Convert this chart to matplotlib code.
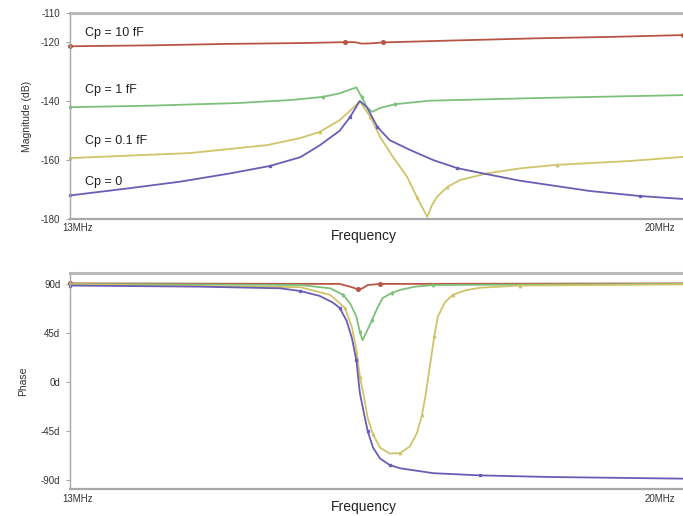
import matplotlib
matplotlib.use("Agg")
import matplotlib.pyplot as plt

plt.rcParams['font.family'] = ['Liberation Sans', 'DejaVu Sans']

# ---------------- Data (frequency in MHz) ----------------
# Magnitude (dB)
f_mag_10f = [13.00, 13.91, 14.80, 15.68, 16.14, 16.25, 16.33, 16.45, 16.57, 17.43, 18.33, 19.20, 20.00]
mag_10f = [-121.3, -121.0, -120.5, -120.2, -119.9, -119.9, -120.4, -120.3, -120.0, -119.3, -118.6, -118.1, -117.5]

f_mag_1f = [13.00, 13.91, 14.91, 15.51, 15.89, 16.08, 16.20, 16.27, 16.33, 16.39, 16.45, 16.54, 16.71, 17.11, 18.33, 20.00]
mag_1f = [-142.0, -141.5, -140.6, -139.6, -138.5, -137.3, -136.0, -135.3, -138.5, -142.0, -143.6, -142.3, -141.0, -139.8, -138.9, -137.9]

f_mag_01f = [13.00, 14.37, 15.25, 15.63, 15.85, 16.08, 16.23, 16.31, 16.43, 16.54, 16.69, 16.85, 16.96, 17.08,
             17.13, 17.19, 17.31, 17.45, 17.76, 18.14, 18.56, 19.39, 20.00]
mag_01f = [-159.3, -157.6, -154.9, -152.5, -150.4, -146.4, -142.3, -140.0, -145.3, -152.1, -159.0, -165.7, -172.5, -179.3,
           -175.5, -172.5, -169.1, -166.8, -164.5, -162.8, -161.6, -160.3, -158.9]

f_mag_0 = [13.00, 13.69, 14.26, 14.83, 15.28, 15.63, 15.85, 16.08, 16.20, 16.28, 16.31, 16.39, 16.51, 16.65, 16.88,
           17.15, 17.42, 17.68, 18.14, 18.94, 19.51, 20.00]
mag_0 = [-172.0, -169.5, -167.3, -164.5, -162.0, -159.0, -155.0, -150.0, -145.3, -141.3, -139.9, -142.0, -148.7, -153.2, -156.5,
         -160.0, -162.7, -164.3, -167.0, -170.5, -172.2, -173.2]

# Phase (degrees)
f_ph_10f = [13.00, 16.08, 16.22, 16.29, 16.34, 16.40, 16.54, 20.00]
ph_10f = [90.5, 90.0, 87.0, 85.0, 86.0, 89.0, 90.0, 90.5]

f_ph_1f = [13.00, 15.63, 15.97, 16.12, 16.20, 16.27, 16.31, 16.34, 16.38, 16.45, 16.51, 16.57, 16.68, 16.77, 16.94, 17.15, 20.00]
ph_1f = [90.0, 89.0, 86.0, 80.0, 72.0, 60.0, 46.0, 38.5, 45.0, 57.0, 68.0, 77.0, 82.0, 84.5, 87.5, 89.0, 90.0]

f_ph_01f = [13.00, 15.63, 15.97, 16.14, 16.22, 16.27, 16.31, 16.36, 16.40, 16.46, 16.54, 16.65, 16.77, 16.88, 16.96,
            17.02, 17.06, 17.11, 17.16, 17.20, 17.28, 17.37, 17.51, 17.68, 18.14, 20.00]
ph_01f = [89.5, 87.0, 80.0, 68.0, 50.0, 30.0, 5.0, -15.0, -33.0, -48.0, -60.0, -65.5, -65.0, -59.0, -47.0,
          -30.0, -12.0, 15.0, 42.0, 60.0, 73.0, 80.0, 84.0, 86.5, 88.5, 89.5]

f_ph_0 = [13.00, 14.48, 15.40, 15.63, 15.85, 16.00, 16.08, 16.16, 16.22, 16.27, 16.31, 16.36, 16.40, 16.46, 16.54,
          16.65, 16.77, 17.15, 17.68, 18.48, 20.00]
ph_0 = [88.5, 87.5, 86.0, 83.5, 79.0, 73.0, 68.0, 56.0, 40.0, 20.0, -10.0, -30.0, -45.0, -60.0, -70.0,
        -76.0, -79.0, -83.5, -85.5, -87.0, -88.5]

labels = ["Cp = 10 fF", "Cp = 1 fF", "Cp = 0.1 fF", "Cp = 0"]
mag_ticks = [-110, -120, -140, -160, -180]
phase_ticks = [90, 45, 0, -45, -90]
phase_tick_labels = ["90d", "45d", "0d", "-45d", "-90d"]
x_tick_labels = ["13MHz", "20MHz"]

colors = ["#b85545", "#7dc07a", "#cfc46a", "#6a5db5"]
markers = ["o", "d", "^", "s"]
marker_sizes = [2.6, 1.8, 1.8, 1.8]

# ---------------- Figure ----------------
fig = plt.figure(figsize=(6.83, 5.16), dpi=100)
ax1 = fig.add_axes([0.1025, 0.5756, 0.8975, 0.3992])
ax2 = fig.add_axes([0.1025, 0.0523, 0.8975, 0.4186])

mag_series = [(f_mag_10f, mag_10f), (f_mag_1f, mag_1f), (f_mag_01f, mag_01f), (f_mag_0, mag_0)]
ph_series = [(f_ph_10f, ph_10f), (f_ph_1f, ph_1f), (f_ph_01f, ph_01f), (f_ph_0, ph_0)]

for (fx, fy), c, m, ms in zip(mag_series, colors, markers, marker_sizes):
    ax1.plot(fx, fy, color=c, lw=1.3, marker=m, ms=ms, markevery=4,
             mfc=c, mec=c, solid_joinstyle='round', clip_on=False)
for (fx, fy), c, m, ms in zip(ph_series, colors, markers, marker_sizes):
    ax2.plot(fx, fy, color=c, lw=1.3, marker=m, ms=ms, markevery=3,
             mfc=c, mec=c, solid_joinstyle='round', clip_on=False)

frame = "#a8a8a8"
for ax in (ax1, ax2):
    ax.set_xlim(13, 20)
    ax.set_xticks([])
    ax.spines['right'].set_visible(False)
    ax.spines['top'].set_color("#b8b8b8")
    ax.spines['top'].set_linewidth(2.2)
    ax.spines['bottom'].set_color(frame)
    ax.spines['bottom'].set_linewidth(1.6)
    ax.spines['left'].set_color(frame)
    ax.spines['left'].set_linewidth(1.0)
    ax.tick_params(axis='y', direction='out', length=3, width=0.8, color=frame,
                   labelsize=7, labelcolor="#333333", pad=4)
    ax.text(-0.012, -0.045, x_tick_labels[0], transform=ax.transAxes, ha='left', va='center',
            fontsize=7, color="#333333")
    ax.text(0.938, -0.045, x_tick_labels[1], transform=ax.transAxes, ha='left', va='center',
            fontsize=7, color="#333333")
    ax.text(0.48, -0.085, "Frequency", transform=ax.transAxes, ha='center', va='center',
            fontsize=10, color="#222222")

ax1.set_ylim(-180, -110)
ax1.set_yticks(mag_ticks)
ax1.set_yticklabels([str(t) for t in mag_ticks])
ax1.set_ylabel("Magnitude (dB)", fontsize=7.5, color="#333333", labelpad=6)

ax2.set_ylim(-98, 100)
ax2.set_yticks(phase_ticks)
ax2.set_yticklabels(phase_tick_labels)
ax2.set_ylabel("Phase", fontsize=7.5, color="#333333", labelpad=9)

label_pos = [0.903, 0.626, 0.379, 0.18]
for lab, yp in zip(labels, label_pos):
    ax1.text(0.024, yp, lab, transform=ax1.transAxes, ha='left', va='center',
             fontsize=9, color="#222222")

fig.savefig("out.png", dpi=100)
